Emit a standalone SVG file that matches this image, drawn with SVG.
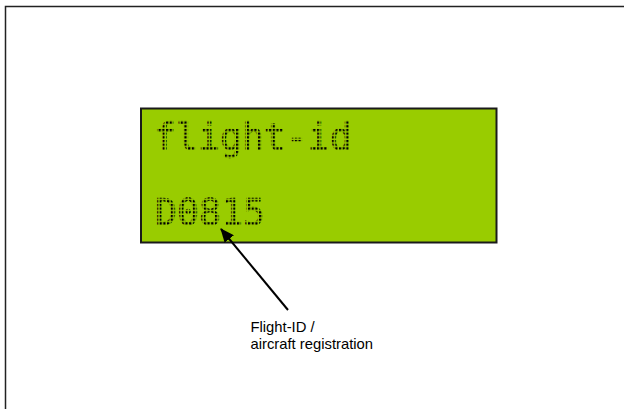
<svg xmlns="http://www.w3.org/2000/svg" width="624" height="409" viewBox="0 0 624 409">
  <defs>
    <style>
      .frame { fill: #ffffff; stroke: #222222; stroke-width: 1.5; }
      .lcd { fill: #99cc00; stroke: #1a1a1a; stroke-width: 2; }
      .dm { font-family: "DejaVu Sans Mono", "Liberation Mono", monospace; font-size: 36.5px; font-weight: normal; stroke-width: 0.6; }
      .label { font-family: "Liberation Sans", Arial, sans-serif; font-size: 14.8px; fill: #000000; }
      .conn { stroke: #000000; stroke-width: 2; fill: none; }
    </style>
    <pattern id="dots1" patternUnits="userSpaceOnUse" x="155" y="147.3" width="3.68" height="3.68">
      <rect x="0" y="0" width="2.2" height="2.2" fill="#000000"/>
    </pattern>
    <pattern id="dots2" patternUnits="userSpaceOnUse" x="156" y="222.3" width="3.68" height="3.68">
      <rect x="0" y="0" width="2.2" height="2.2" fill="#000000"/>
    </pattern>
    <marker id="arrow" markerWidth="14" markerHeight="12" refX="13" refY="6" orient="auto" markerUnits="userSpaceOnUse" viewBox="0 0 14 12">
      <path d="M0,0 L14,6 L0,12 Z" fill="#000000"/>
    </marker>
  </defs>
  <rect class="frame" x="5.5" y="6.5" width="700" height="500"/>
  <g id="lcd-display">
    <rect class="lcd" x="141" y="108.5" width="355.5" height="134"/>
    <text class="dm" x="154" y="149.5" fill="url(#dots1)" stroke="url(#dots1)">flight-id</text>
    <text class="dm" x="155" y="224.5" fill="url(#dots2)" stroke="url(#dots2)">D0815</text>
  </g>
  <g id="connectors">
    <line class="conn" x1="288" y1="310" x2="221" y2="229" marker-end="url(#arrow)"/>
  </g>
  <g id="label-flight-id">
    <text class="label" x="250.5" y="332">Flight-ID /</text>
    <text class="label" x="250.5" y="349">aircraft registration</text>
  </g>
</svg>
